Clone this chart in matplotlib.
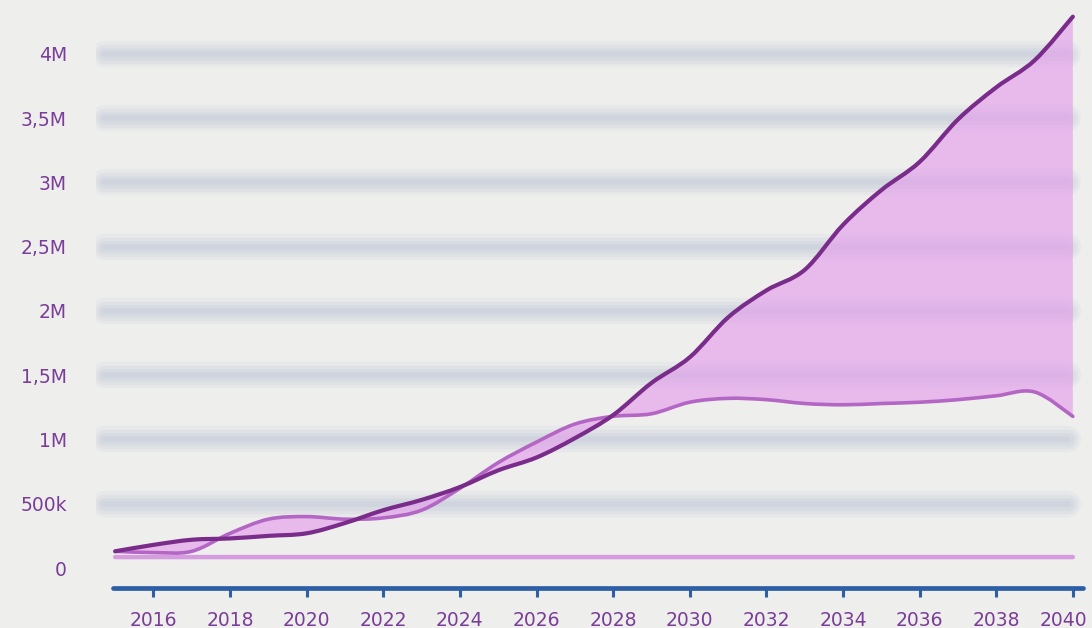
import matplotlib
matplotlib.use("Agg")
import matplotlib.pyplot as plt
from matplotlib.path import Path
from matplotlib.patches import PathPatch
import matplotlib.transforms as mtransforms
import numpy as np

# ---------------- data ----------------
years = list(range(2015, 2041))
series_high = [0.13, 0.18, 0.22, 0.23, 0.25, 0.27, 0.35, 0.45, 0.53, 0.63,
               0.76, 0.86, 1.01, 1.19, 1.44, 1.64, 1.95, 2.16, 2.32, 2.67,
               2.94, 3.16, 3.49, 3.74, 3.95, 4.29]   # millions
series_low = [0.13, 0.12, 0.13, 0.27, 0.38, 0.40, 0.38, 0.39, 0.45, 0.62,
              0.82, 0.98, 1.12, 1.18, 1.20, 1.29, 1.32, 1.31, 1.28, 1.27,
              1.28, 1.29, 1.31, 1.34, 1.37, 1.18]    # millions
series_base = [0.085] * len(years)                    # millions
ytick_vals = [0, 0.5, 1, 1.5, 2, 2.5, 3, 3.5, 4]
ytick_labels = ['0', '500k', '1M', '1,5M', '2M', '2,5M', '3M', '3,5M', '4M']
xtick_vals = list(range(2016, 2041, 2))
xtick_labels = [str(v) for v in xtick_vals]

# ---------------- style ----------------
BG = '#eeeeec'
DARK = '#7a2c8a'
LIGHT = '#b466c4'
BASE = '#d69ce0'
FILL = '#e4a2eb'
BLUE = '#2d5fa6'
TXT = '#7a3d98'
GRID = '#8598c0'

plt.rcParams['font.family'] = ['DejaVu Sans']

fig = plt.figure(figsize=(10.92, 6.28), dpi=100)
fig.patch.set_facecolor(BG)
ax = fig.add_axes([96 / 1092, 28 / 628, 1 - 96 / 1092, 590 / 628])
ax.set_facecolor(BG)
ax.set_xlim(2014.5, 2040.5)
ax.set_ylim(-0.249, 4.342)


def bezier_segments(xs, ys):
    """Catmull-Rom style smooth path through the given points (as cubic Beziers)."""
    pts = np.column_stack([xs, ys]).astype(float)
    n = len(pts)
    verts = [tuple(pts[0])]
    codes = [Path.MOVETO]
    for i in range(n - 1):
        p0 = pts[max(i - 1, 0)]
        p1 = pts[i]
        p2 = pts[i + 1]
        p3 = pts[min(i + 2, n - 1)]
        c1 = p1 + (p2 - p0) / 6.0
        c2 = p2 - (p3 - p1) / 6.0
        verts += [tuple(c1), tuple(c2), tuple(p2)]
        codes += [Path.CURVE4] * 3
    return verts, codes


# blurry hand-drawn gridlines
for v in ytick_vals[1:]:
    for lw, a in [(19, 0.06), (14, 0.08), (9, 0.09), (4, 0.08)]:
        ax.hlines(v, 2014.72, 2039.88, colors=GRID, linewidth=lw, alpha=a,
                  zorder=1, capstyle='round')

# fill between the two series
vh, ch = bezier_segments(years, series_high)
vl, cl = bezier_segments(years[::-1], series_low[::-1])
fill_verts = vh + [vl[0]] + vl[1:] + [vh[0]]
fill_codes = ch + [Path.LINETO] + cl[1:] + [Path.CLOSEPOLY]
ax.add_patch(PathPatch(Path(fill_verts, fill_codes), facecolor=FILL,
                       edgecolor='none', alpha=0.68, zorder=2))

# baseline series
vb, cb = bezier_segments(years, series_base)
ax.add_patch(PathPatch(Path(vb, cb), facecolor='none', edgecolor=BASE,
                       linewidth=3.2, capstyle='round', zorder=3))

# light series
vl2, cl2 = bezier_segments(years, series_low)
ax.add_patch(PathPatch(Path(vl2, cl2), facecolor='none', edgecolor=LIGHT,
                       linewidth=2.6, capstyle='round', joinstyle='round', zorder=4))

# dark series
ax.add_patch(PathPatch(Path(vh, ch), facecolor='none', edgecolor=DARK,
                       linewidth=3.0, capstyle='round', joinstyle='round', zorder=5))

# axes styling
for s in ['top', 'right', 'left']:
    ax.spines[s].set_visible(False)
sp = ax.spines['bottom']
sp.set_position(('data', -0.156))
sp.set_bounds(2014.95, 2040.26)
sp.set_linewidth(3.4)
sp.set_color(BLUE)
sp.set_capstyle('round')

ax.set_xticks(xtick_vals)
ax.set_xticklabels(xtick_labels)
ax.tick_params(axis='x', direction='out', length=6.5, width=2.2, color=BLUE,
               labelcolor=TXT, labelsize=13.5, pad=10)
ax.set_yticks(ytick_vals)
ax.set_yticklabels(ytick_labels)
ax.tick_params(axis='y', length=0, labelcolor=TXT, labelsize=13.5, pad=21)

# last x label sits slightly left of its tick so it stays inside the picture
last = ax.get_xticklabels()[-1]
last.set_transform(last.get_transform() +
                   mtransforms.ScaledTranslation(-9 / 100, 0, fig.dpi_scale_trans))

fig.savefig('out.png', dpi=100, facecolor=BG)
